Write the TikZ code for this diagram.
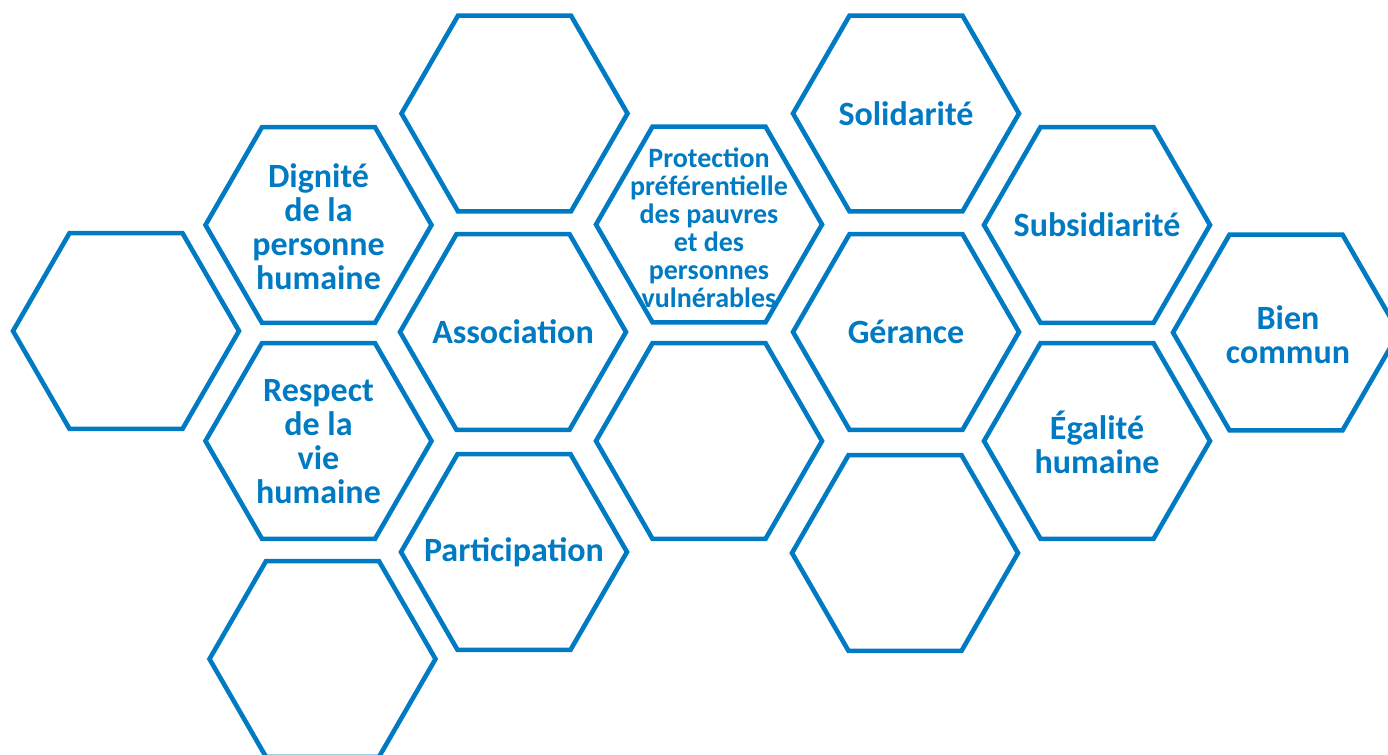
\documentclass[tikz,border=0pt]{standalone}
\usepackage{fontspec}
\setmainfont{Carlito}
\usetikzlibrary{shapes.geometric}
\definecolor{hexblue}{RGB}{0,122,194}
\tikzset{
  hex/.style={draw=hexblue, line width=2.3pt, regular polygon, regular polygon sides=6,
    minimum size=113pt, inner sep=0pt, outer sep=0pt},
  lbl/.style={text=hexblue, font=\fontsize{17}{17}\selectfont\bfseries, align=center, inner sep=0pt},
  lblsmall/.style={text=hexblue, font=\fontsize{14}{14}\selectfont\bfseries, align=center, inner sep=0pt}
}
\begin{document}
\begin{tikzpicture}[x=0.5pt,y=-0.5pt]
\useasboundingbox (0,0) rectangle (1388,755);
\clip (0,0) rectangle (1388,755);
% column 1
\node[hex] (h1) at (126,331) {};
% column 2
\node[hex] (h2) at (318.5,225) {};
\node[hex] (h3) at (318.5,441) {};
\node[hex] (h4) at (322.5,659) {};
% column 3
\node[hex] (h5) at (514.5,113.5) {};
\node[hex] (h6) at (513,332) {};
\node[hex] (h7) at (514,552) {};
% column 4
\node[hex] (h8) at (709,224.5) {};
\node[hex] (h9) at (709,441) {};
% column 5
\node[hex] (h10) at (906,113.5) {};
\node[hex] (h11) at (906,332) {};
\node[hex] (h12) at (905,553) {};
% column 6
\node[hex] (h13) at (1097,225) {};
\node[hex] (h14) at (1097,441) {};
% column 7
\node[hex] (h15) at (1286,332.5) {};
% labels
\node[lbl] (t2) at (318.5,227) {Dignité\\de la\\personne\\humaine};
\node[lbl] (t3) at (318.5,442) {Respect\\de la\\vie\\humaine};
\node[lbl] (t6) at (513,332) {Association};
\node[lbl] (t7) at (514,552) {Participation};
\node[lblsmall] (t8) at (709,228) {Protection\\préférentielle\\des pauvres\\et des\\personnes\\vulnérables};
\node[lbl] (t10) at (906,113.5) {Solidarité};
\node[lbl] (t11) at (906,332) {Gérance};
\node[lbl] (t13) at (1097,225) {Subsidiarité};
\node[lbl] (t14) at (1097,442) {Égalité\\humaine};
\node[lbl] (t15) at (1288,334.5) {Bien\\commun};
\end{tikzpicture}
\end{document}
